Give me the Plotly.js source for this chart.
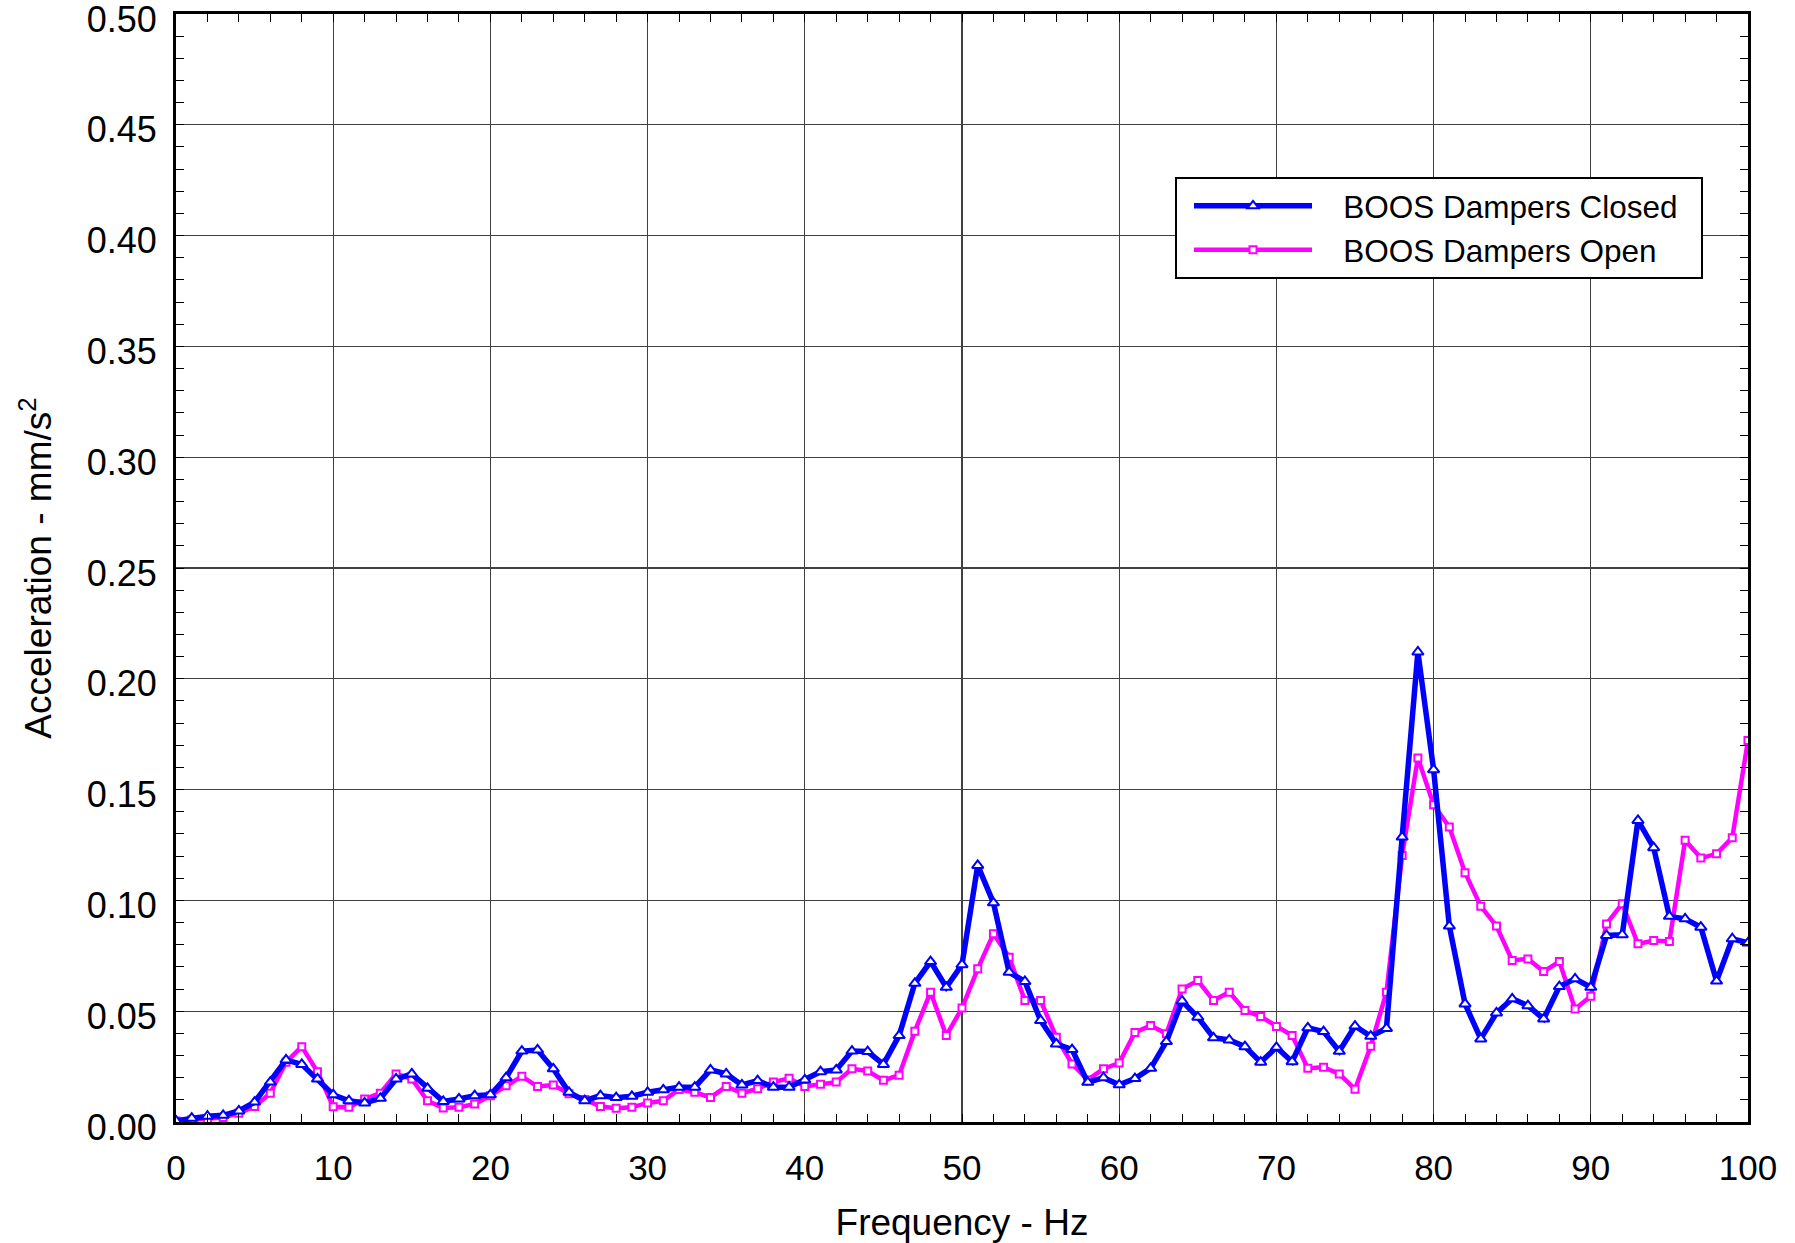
<!DOCTYPE html>
<html>
<head>
<meta charset="utf-8">
<script src="https://cdn.plot.ly/plotly-3.0.1.min.js"></script>
<style>html,body{margin:0;padding:0;background:#fff;}#chart{width:1795px;height:1243px;}</style>
</head>
<body>
<div id="chart"></div>
<script>
const freq = Array.from({length: 101}, (_, i) => i);
const closedName = "BOOS Dampers Closed";
const openName = "BOOS Dampers Open";
const closedVals = [0.0005,0.0017,0.0026,0.003,0.005,0.009,0.018,0.028,0.026,0.0194,
0.0123,0.0096,0.0086,0.0107,0.0194,0.0217,0.0152,0.0093,0.0104,0.0119,
0.0123,0.020,0.032,0.0325,0.024,0.0134,0.0096,0.0119,0.011,0.0116,
0.0134,0.0145,0.0157,0.0157,0.0235,0.0217,0.0167,0.0187,0.0157,0.0157,
0.019,0.0227,0.0235,0.032,0.0318,0.026,0.039,0.0626,0.0724,0.0608,
0.071,0.1158,0.0989,0.0676,0.0634,0.0458,0.0352,0.0327,0.0179,0.020,
0.0168,0.0196,0.0242,0.0363,0.0546,0.0473,0.038,0.037,0.034,0.027,
0.0337,0.0272,0.0425,0.0408,0.0319,0.0433,0.0387,0.0422,0.1286,0.2121,
0.159,0.0884,0.0533,0.0375,0.0492,0.0556,0.0525,0.0465,0.0611,0.0646,
0.0608,0.0842,0.0845,0.1361,0.1238,0.0928,0.0917,0.0879,0.0636,0.0827,
0.0808];
const openVals = [0.0005,0.001,0.001,0.002,0.004,0.007,0.013,0.027,0.034,0.0227,
0.0069,0.0066,0.0104,0.013,0.0217,0.0194,0.0096,0.0063,0.0066,0.0081,
0.0119,0.0164,0.0206,0.016,0.0167,0.0128,0.0102,0.007,0.0062,0.0066,
0.0086,0.0096,0.0147,0.0134,0.0111,0.016,0.013,0.015,0.018,0.0197,
0.016,0.017,0.018,0.024,0.023,0.0188,0.0211,0.041,0.0586,0.039,
0.0514,0.0691,0.0849,0.0744,0.0548,0.0548,0.0383,0.0262,0.019,0.024,
0.0266,0.0404,0.0435,0.0398,0.060,0.0638,0.0548,0.0586,0.0503,0.0476,
0.0431,0.039,0.0243,0.0247,0.0217,0.0148,0.0342,0.0586,0.1203,0.1643,
0.1432,0.1331,0.1125,0.0974,0.0884,0.0729,0.0736,0.0679,0.0724,0.051,
0.0568,0.0894,0.0985,0.0804,0.0819,0.0815,0.1271,0.1191,0.121,0.1283,
0.1722];
const xTickVals = [0,10,20,30,40,50,60,70,80,90,100];
const yTickVals = [0,0.05,0.10,0.15,0.20,0.25,0.30,0.35,0.40,0.45,0.50];
const yTickText = yTickVals.map(v => v.toFixed(2));

const FONT = "Liberation Sans, Arial, sans-serif";
const PAD = "\u00a0\u00a0\u00a0";
const TAIL = "\u00a0\u00a0";

const traces = [
  {
    x: freq, y: openVals, name: PAD + openName + TAIL, type: 'scatter', mode: 'lines+markers',
    line: {color: '#ff00ff', width: 4.5},
    marker: {symbol: 'square', size: 7, color: '#ffffff', line: {color: '#ff00ff', width: 2}}
  },
  {
    x: freq, y: closedVals, name: PAD + closedName + TAIL, type: 'scatter', mode: 'lines+markers',
    line: {color: '#0000ff', width: 5.5},
    marker: {symbol: 'triangle-up', size: 10, color: '#ffffff', line: {color: '#0000ff', width: 2}}
  }
];

const layout = {
  width: 1795, height: 1243,
  paper_bgcolor: '#ffffff', plot_bgcolor: '#ffffff',
  margin: {l: 176, r: 47, t: 14, b: 121},
  font: {family: FONT, color: '#000', size: 34},
  showlegend: true,
  legend: {
    x: 0.6355, y: 0.853, xanchor: 'left', yanchor: 'top',
    bgcolor: '#ffffff', bordercolor: '#000', borderwidth: 2,
    font: {family: FONT, size: 31.5, color: '#000'},
    traceorder: 'reversed', itemwidth: 118, tracegroupgap: 0, indentation: 12
  },
  xaxis: {
    range: [0, 100], tickvals: xTickVals, ticktext: xTickVals.map(String),
    showline: true, linecolor: '#000', linewidth: 3, mirror: 'allticks',
    ticks: 'inside', ticklen: 8, tickcolor: '#000', tickwidth: 1,
    showgrid: true, gridcolor: '#404040', gridwidth: 1.3,
    zeroline: false, ticklabelstandoff: 13, ticklabeloverflow: 'allow',
    minor: {dtick: 2, ticks: 'inside', ticklen: 8, tickcolor: '#000', tickwidth: 1, showgrid: false},
    tickfont: {family: FONT, size: 35, color: '#000'},
    title: {text: 'Frequency - Hz', font: {family: FONT, size: 37, color: '#000'}, standoff: 24},
    automargin: false
  },
  yaxis: {
    range: [0, 0.5], tickvals: yTickVals, ticktext: yTickText,
    showline: true, linecolor: '#000', linewidth: 3, mirror: 'allticks',
    ticks: 'inside', ticklen: 8, tickcolor: '#000', tickwidth: 1,
    showgrid: true, gridcolor: '#404040', gridwidth: 1.3,
    zeroline: false, ticklabelstandoff: 9, ticklabelshift: 5, ticklabeloverflow: 'allow',
    minor: {dtick: 0.01, ticks: 'inside', ticklen: 8, tickcolor: '#000', tickwidth: 1, showgrid: false},
    tickfont: {family: FONT, size: 36, color: '#000'},
    title: {text: 'Acceleration - mm/s<sup>2</sup>', font: {family: FONT, size: 37, color: '#000'}, standoff: 24},
    automargin: false
  }
};

Plotly.newPlot('chart', traces, layout, {displayModeBar: false, staticPlot: true});
</script>
</body>
</html>
